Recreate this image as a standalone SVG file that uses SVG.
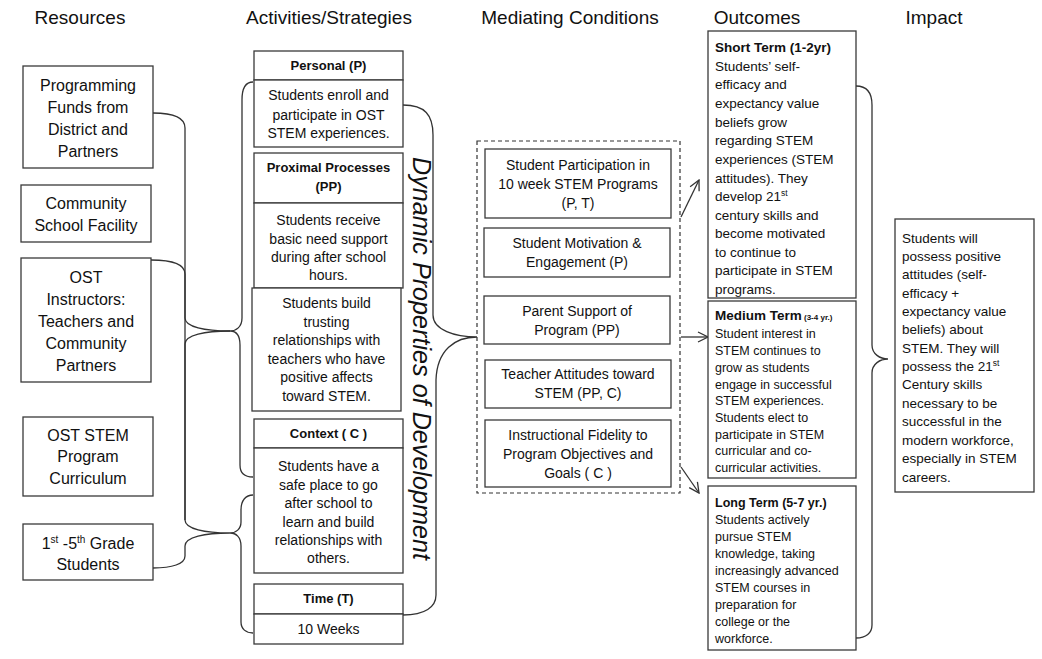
<svg xmlns="http://www.w3.org/2000/svg" width="1042" height="659" viewBox="0 0 1042 659">
  <defs>
    <style>
      .hdr { font-family: "Liberation Sans", Arial, sans-serif; font-size: 19px; fill: #111; text-anchor: middle; }
      .box { fill: #fff; stroke: #3a3a3a; stroke-width: 1.3; }
      .res { font-family: "Liberation Sans", Arial, sans-serif; font-size: 16px; fill: #111; text-anchor: middle; }
      .act { font-family: "Liberation Sans", Arial, sans-serif; font-size: 14px; fill: #111; text-anchor: middle; }
      .actb { font-family: "Liberation Sans", Arial, sans-serif; font-size: 13px; font-weight: bold; fill: #111; text-anchor: middle; }
      .med { font-family: "Liberation Sans", Arial, sans-serif; font-size: 14px; fill: #111; text-anchor: middle; }
      .out { font-family: "Liberation Sans", Arial, sans-serif; font-size: 13.5px; fill: #111; }
      .outs { font-family: "Liberation Sans", Arial, sans-serif; font-size: 12.5px; fill: #111; }
      .imp { font-family: "Liberation Sans", Arial, sans-serif; font-size: 13.5px; fill: #111; }
      .dyn { font-family: "Liberation Sans", Arial, sans-serif; font-size: 25px; font-style: italic; fill: #111; text-anchor: middle; }
      .brace { fill: none; stroke: #333; stroke-width: 1.3; }
      .arrow { fill: none; stroke: #333; stroke-width: 1.3; marker-end: url(#open); }
      .dash { fill: none; stroke: #333; stroke-width: 1.2; stroke-dasharray: 4 3; }
    </style>
    <marker id="open" viewBox="0 0 12 12" refX="11" refY="6" markerWidth="12" markerHeight="12" markerUnits="userSpaceOnUse" orient="auto">
      <path d="M1,1 L11,6 L1,11" fill="none" stroke="#333" stroke-width="1.3"/>
    </marker>
  </defs>

  <rect width="1042" height="659" fill="#fff"/>

  <!-- column headings -->
  <g id="headers">
    <text class="hdr" x="80" y="24">Resources</text>
    <text class="hdr" x="329" y="24">Activities/Strategies</text>
    <text class="hdr" x="570" y="24">Mediating Conditions</text>
    <text class="hdr" x="757" y="24">Outcomes</text>
    <text class="hdr" x="934" y="24">Impact</text>
  </g>

  <!-- connectors: braces and arrows -->
  <g id="connectors">
    <!-- resources to activities -->
    <path class="brace" d="M153,113 C172,113 185,117 185,128 L185,318 C185,327 205,331 230,331"/>
    <path class="brace" d="M230,331 C205,331 185,335 185,344 L185,520"/>
    <path class="brace" d="M151,260 C172,260 185,264 185,274 L185,520 C185,529 205,533 230,533 C205,533 185,537 185,546 L185,556 C185,564 172,568 153,568"/>
    <path class="brace" d="M253,82 C245,82 242,88 242,100 L242,318 C242,327 236,331 230,331 C236,331 240,335 240,345 L240,465 C240,473 245,477 253,477"/>
    <path class="brace" d="M253,495 C246,495 241,500 241,510 L241,522 C241,529 236,533 230,533 C236,533 241,537 241,546 L241,622 C241,629 246,633 253,633"/>
    <!-- activities to mediating conditions -->
    <path class="brace" d="M403,105 C425,105 433,115 433,135 L433,315 C433,330 455,337 477,337 C455,337 437,350 436,380 L436,595 C436,607 425,615 403,615"/>
    <!-- mediating conditions to outcomes -->
    <path class="arrow" d="M681,217 L699,180"/>
    <path class="arrow" d="M681,337 L708,337"/>
    <path class="arrow" d="M681,467 L699,493"/>
    <!-- outcomes to impact -->
    <path class="brace" d="M856,86 C866,86 872,92 872,105 L872,345 C872,354 880,359 888,359 C880,359 872,364 872,373 L872,625 C872,633 866,638 856,638"/>
  </g>

  <!-- resources -->
  <g id="res-funds">
    <rect class="box" x="23" y="66" width="130" height="102"/>
    <text class="res" x="88" y="91">Programming</text>
    <text class="res" x="88" y="113">Funds from</text>
    <text class="res" x="88" y="135">District and</text>
    <text class="res" x="88" y="157">Partners</text>
  </g>
  <g id="res-facility">
    <rect class="box" x="21" y="185" width="130" height="57"/>
    <text class="res" x="86" y="209">Community</text>
    <text class="res" x="86" y="231">School Facility</text>
  </g>
  <g id="res-instructors">
    <rect class="box" x="21" y="258" width="130" height="124"/>
    <text class="res" x="86" y="283">OST</text>
    <text class="res" x="86" y="305">Instructors:</text>
    <text class="res" x="86" y="327">Teachers and</text>
    <text class="res" x="86" y="349">Community</text>
    <text class="res" x="86" y="371">Partners</text>
  </g>
  <g id="res-curriculum">
    <rect class="box" x="23" y="417" width="130" height="79"/>
    <text class="res" x="88" y="441">OST STEM</text>
    <text class="res" x="88" y="462">Program</text>
    <text class="res" x="88" y="484">Curriculum</text>
  </g>
  <g id="res-students">
    <rect class="box" x="23" y="524" width="130" height="56"/>
    <text class="res" x="88" y="549">1<tspan font-size="10" dy="-6">st</tspan><tspan dy="6"> -5</tspan><tspan font-size="10" dy="-6">th</tspan><tspan dy="6"> Grade</tspan></text>
    <text class="res" x="88" y="570">Students</text>
  </g>

  <!-- activities / strategies -->
  <g id="act-personal">
    <rect class="box" x="254" y="51" width="149" height="29"/>
    <text class="actb" x="328.5" y="70">Personal (P)</text>
    <rect class="box" x="254" y="80" width="149" height="67"/>
    <text class="act" x="328.5" y="100">Students enroll and</text>
    <text class="act" x="328.5" y="120">participate in OST</text>
    <text class="act" x="328.5" y="138">STEM experiences.</text>
  </g>
  <g id="act-proximal">
    <rect class="box" x="254" y="153" width="149" height="50"/>
    <text class="actb" x="328.5" y="172">Proximal Processes</text>
    <text class="actb" x="328.5" y="191">(PP)</text>
    <rect class="box" x="254" y="203" width="149" height="85"/>
    <text class="act" x="328.5" y="225">Students receive</text>
    <text class="act" x="328.5" y="244">basic need support</text>
    <text class="act" x="328.5" y="262">during after school</text>
    <text class="act" x="328.5" y="280">hours.</text>
    <rect class="box" x="252" y="288" width="149" height="123"/>
    <text class="act" x="326.5" y="308">Students build</text>
    <text class="act" x="326.5" y="327">trusting</text>
    <text class="act" x="326.5" y="345">relationships with</text>
    <text class="act" x="326.5" y="364">teachers who have</text>
    <text class="act" x="326.5" y="382">positive affects</text>
    <text class="act" x="326.5" y="401">toward STEM.</text>
  </g>
  <g id="act-context">
    <rect class="box" x="254" y="419" width="149" height="29"/>
    <text class="actb" x="328.5" y="438">Context ( C )</text>
    <rect class="box" x="254" y="448" width="149" height="125"/>
    <text class="act" x="328.5" y="471">Students have a</text>
    <text class="act" x="328.5" y="490">safe place to go</text>
    <text class="act" x="328.5" y="508">after school to</text>
    <text class="act" x="328.5" y="527">learn and build</text>
    <text class="act" x="328.5" y="545">relationships with</text>
    <text class="act" x="328.5" y="563">others.</text>
  </g>
  <g id="act-time">
    <rect class="box" x="254" y="584" width="149" height="30"/>
    <text class="actb" x="328.5" y="603">Time (T)</text>
    <rect class="box" x="254" y="614" width="149" height="30"/>
    <text class="act" x="328.5" y="634">10 Weeks</text>
  </g>
  <g id="dynamic-label">
    <text class="dyn" transform="translate(413,358.5) rotate(90)" x="0" y="0" textLength="403" lengthAdjust="spacingAndGlyphs">Dynamic Properties of Development</text>
  </g>

  <!-- mediating conditions -->
  <g id="mediating">
    <rect class="dash" x="477" y="141" width="203" height="352"/>
  </g>
  <g id="med-participation">
    <rect class="box" x="485" y="149" width="186" height="69"/>
    <text class="med" x="578" y="170">Student Participation in</text>
    <text class="med" x="578" y="189">10 week STEM Programs</text>
    <text class="med" x="578" y="208">(P, T)</text>
  </g>
  <g id="med-motivation">
    <rect class="box" x="484" y="228" width="186" height="49"/>
    <text class="med" x="577" y="248">Student Motivation &amp;</text>
    <text class="med" x="577" y="267">Engagement (P)</text>
  </g>
  <g id="med-parent">
    <rect class="box" x="484" y="296" width="186" height="48"/>
    <text class="med" x="577" y="316">Parent Support of</text>
    <text class="med" x="577" y="335">Program (PP)</text>
  </g>
  <g id="med-teacher">
    <rect class="box" x="485" y="360" width="186" height="48"/>
    <text class="med" x="578" y="379">Teacher Attitudes toward</text>
    <text class="med" x="578" y="398">STEM (PP, C)</text>
  </g>
  <g id="med-fidelity">
    <rect class="box" x="485" y="420" width="186" height="67"/>
    <text class="med" x="578" y="440">Instructional Fidelity to</text>
    <text class="med" x="578" y="459">Program Objectives and</text>
    <text class="med" x="578" y="478">Goals ( C )</text>
  </g>

  <!-- outcomes -->
  <g id="out-short">
    <rect class="box" x="708" y="31" width="148" height="267"/>
    <text class="out" x="715" y="52" font-weight="bold">Short Term (1-2yr)</text>
    <text class="out" x="715" y="71">Students’ self-</text>
    <text class="out" x="715" y="89">efficacy and</text>
    <text class="out" x="715" y="108">expectancy value</text>
    <text class="out" x="715" y="127">beliefs grow</text>
    <text class="out" x="715" y="145">regarding STEM</text>
    <text class="out" x="715" y="164">experiences (STEM</text>
    <text class="out" x="715" y="183">attitudes). They</text>
    <text class="out" x="715" y="201">develop 21<tspan font-size="8.5" dy="-5">st</tspan></text>
    <text class="out" x="715" y="220">century skills and</text>
    <text class="out" x="715" y="238">become motivated</text>
    <text class="out" x="715" y="257">to continue to</text>
    <text class="out" x="715" y="275">participate in STEM</text>
    <text class="out" x="715" y="294">programs.</text>
  </g>
  <g id="out-medium">
    <rect class="box" x="708" y="301" width="148" height="177"/>
    <text class="outs" x="715" y="320"><tspan font-weight="bold" font-size="13.5">Medium Term</tspan><tspan font-weight="bold" font-size="8"> (3-4 yr.)</tspan></text>
    <text class="outs" x="715" y="338">Student interest in</text>
    <text class="outs" x="715" y="355">STEM continues to</text>
    <text class="outs" x="715" y="372">grow as students</text>
    <text class="outs" x="715" y="389">engage in successful</text>
    <text class="outs" x="715" y="405">STEM experiences.</text>
    <text class="outs" x="715" y="422">Students elect to</text>
    <text class="outs" x="715" y="439">participate in STEM</text>
    <text class="outs" x="715" y="455">curricular and co-</text>
    <text class="outs" x="715" y="472">curricular activities.</text>
  </g>
  <g id="out-long">
    <rect class="box" x="708" y="486" width="148" height="164"/>
    <text class="outs" x="715" y="507" font-weight="bold" font-size="13">Long Term (5-7 yr.)</text>
    <text class="outs" x="715" y="524">Students actively</text>
    <text class="outs" x="715" y="541">pursue STEM</text>
    <text class="outs" x="715" y="558">knowledge, taking</text>
    <text class="outs" x="715" y="575">increasingly advanced</text>
    <text class="outs" x="715" y="592">STEM courses in</text>
    <text class="outs" x="715" y="609">preparation for</text>
    <text class="outs" x="715" y="626">college or the</text>
    <text class="outs" x="715" y="643">workforce.</text>
  </g>

  <!-- impact -->
  <g id="impact">
    <rect class="box" x="895" y="219" width="139" height="273"/>
    <text class="imp" x="902" y="243">Students will</text>
    <text class="imp" x="902" y="261">possess positive</text>
    <text class="imp" x="902" y="279">attitudes (self-</text>
    <text class="imp" x="902" y="298">efficacy +</text>
    <text class="imp" x="902" y="316">expectancy value</text>
    <text class="imp" x="902" y="334">beliefs) about</text>
    <text class="imp" x="902" y="353">STEM. They will</text>
    <text class="imp" x="902" y="371">possess the 21<tspan font-size="8.5" dy="-5">st</tspan></text>
    <text class="imp" x="902" y="389">Century skills</text>
    <text class="imp" x="902" y="408">necessary to be</text>
    <text class="imp" x="902" y="426">successful in the</text>
    <text class="imp" x="902" y="445">modern workforce,</text>
    <text class="imp" x="902" y="463">especially in STEM</text>
    <text class="imp" x="902" y="482">careers.</text>
  </g>
</svg>
